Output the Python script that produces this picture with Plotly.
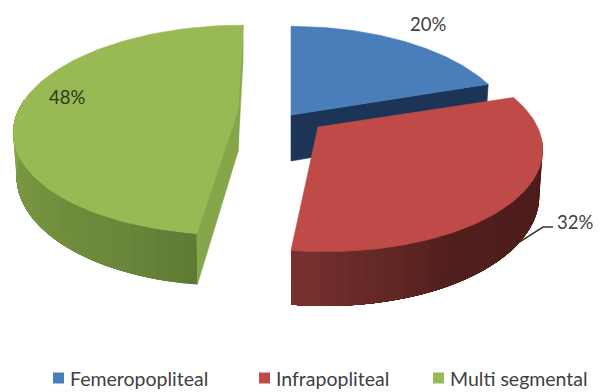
import numpy as np
import plotly.graph_objects as go

# Chart data
categories = ["Femeropopliteal", "Infrapopliteal", "Multi segmental"]
shares = [20, 32, 48]

# Colours
top_colors = ["#4a7ebb", "#be4b48", "#98b954"]
legend_colors = ["#4a7ebb", "#be4b48", "#98b954"]
cut_wall_colors = ["#1c3557", "#4a1c1a", "#86a64a"]
# (degrees clockwise from 12 o'clock, colour) stops for the curved walls
rim_shades = {
    1: [(95, (74, 28, 26)), (130, (78, 29, 27)), (150, (82, 31, 28)), (170, (102, 42, 39)), (188, (123, 51, 48))],
    2: [(187, (95, 122, 53)), (200, (104, 133, 58)), (250, (124, 154, 66)), (276, (143, 174, 80))],
}

# Projection of the tilted disc onto the page
WIDTH, HEIGHT = 603, 392
RADIUS_X, RADIUS_Y = 219.5, 101.0
DEPTH_PULL = 0.19
BOTTOM_SCALE = 0.985
# Exploded position of each wedge: tip x, tip y, horizontal lean, vertical stretch, thickness
wedge_place = [
    (291.0, 115.0, 0.0, 1.045, 46.0),
    (318.0, 127.0, 0.056, 1.0, 44.0),
    (238.0, 110.0, -0.06, 1.0, 41.5),
]


def project(slice_index, angle_deg, radius=1.0, bottom=False):
    tip_x, tip_y, lean, stretch, thickness = wedge_place[slice_index]
    a = np.radians(angle_deg)
    x_w, y_w = radius * np.sin(a), radius * np.cos(a)
    s = 1.0 / (1.0 + DEPTH_PULL * y_w)
    dy = -RADIUS_Y * stretch * y_w * s
    dx = RADIUS_X * x_w * s + lean * dy
    if bottom:
        return tip_x + dx * BOTTOM_SCALE, tip_y + dy + thickness * s
    return tip_x + dx, tip_y + dy


def polygon(points, color, stroke=0.6):
    xs, ys = zip(*points)
    return go.Scatter(
        x=list(xs) + [xs[0]], y=list(ys) + [ys[0]], mode="lines", fill="toself",
        fillcolor=color, line=dict(color=color, width=stroke),
        hoverinfo="skip", showlegend=False,
    )


def shade(stops, angle):
    ang = [p[0] for p in stops]
    rgb = [np.interp(angle, ang, [p[1][c] for p in stops]) for c in range(3)]
    return "rgb({:.0f},{:.0f},{:.0f})".format(*rgb)


def top_face(i, start, end):
    arc = [project(i, t) for t in np.linspace(start, end, 90)]
    return polygon([project(i, 0, radius=0)] + arc, top_colors[i])


def cut_wall(i, angle):
    return polygon(
        [project(i, 0, radius=0), project(i, angle),
         project(i, angle, bottom=True), project(i, 0, radius=0, bottom=True)],
        cut_wall_colors[i],
    )


def rim_wall(i, start, end, pieces=30):
    # Every piece reaches to the far end of the wall, so later pieces paint
    # over the earlier ones and no gap can open between neighbours.
    traces = []
    edges = np.linspace(start, end, pieces + 1)
    for a0 in edges[:-1]:
        arc = np.linspace(a0, end, 40)
        pts = [project(i, t) for t in arc] + [project(i, t, bottom=True) for t in arc[::-1]]
        traces.append(polygon(pts, shade(rim_shades[i], a0), stroke=0))
    return traces


bounds = np.concatenate([[0], np.cumsum(shares)]) * 3.6

fig = go.Figure()

# Back wedge first, then the left one, with the front wedge last
fig.add_trace(cut_wall(0, bounds[1]))
fig.add_trace(top_face(0, bounds[0], bounds[1]))

fig.add_trace(cut_wall(2, bounds[3]))
fig.add_trace(cut_wall(2, bounds[2]))
fig.add_traces(rim_wall(2, bounds[2], 276))
fig.add_trace(top_face(2, bounds[2], bounds[3]))

fig.add_traces(rim_wall(1, 95, bounds[2]))
fig.add_trace(top_face(1, bounds[1], bounds[2]))

# Leader line for the 32% label
fig.add_trace(go.Scatter(
    x=[507, 543, 553], y=[250, 227, 227], mode="lines",
    line=dict(color="#333333", width=1.5), hoverinfo="skip", showlegend=False,
))

# Percentage labels
label_places = [(428, 24, "#404040"), (575, 222, "#404040"), (67, 97, "#2b3a1c")]
for share, (lx, ly, lc) in zip(shares, label_places):
    fig.add_annotation(
        x=lx, y=ly, text=f"{share}%", showarrow=False,
        font=dict(family="Lato", size=18.5, color=lc),
    )

# Legend row
legend_marks = [58.5, 264.5, 438.5]
for name, color, mx in zip(categories, legend_colors, legend_marks):
    fig.add_trace(go.Scatter(
        x=[mx], y=[378], mode="markers",
        marker=dict(symbol="square", size=11, color=color),
        hoverinfo="skip", showlegend=False,
    ))
    fig.add_annotation(
        x=mx + 9.5, y=378, text=name, showarrow=False, xanchor="left",
        font=dict(family="Lato", size=19.5, color="#404040"),
    )

fig.update_layout(
    width=WIDTH, height=HEIGHT, autosize=False,
    margin=dict(l=0, r=0, t=0, b=0),
    paper_bgcolor="white", plot_bgcolor="white", showlegend=False,
    xaxis=dict(range=[0, WIDTH], visible=False, fixedrange=True),
    yaxis=dict(range=[HEIGHT, 0], visible=False, fixedrange=True),
)

fig.write_html("out.html", config=dict(displayModeBar=False))
